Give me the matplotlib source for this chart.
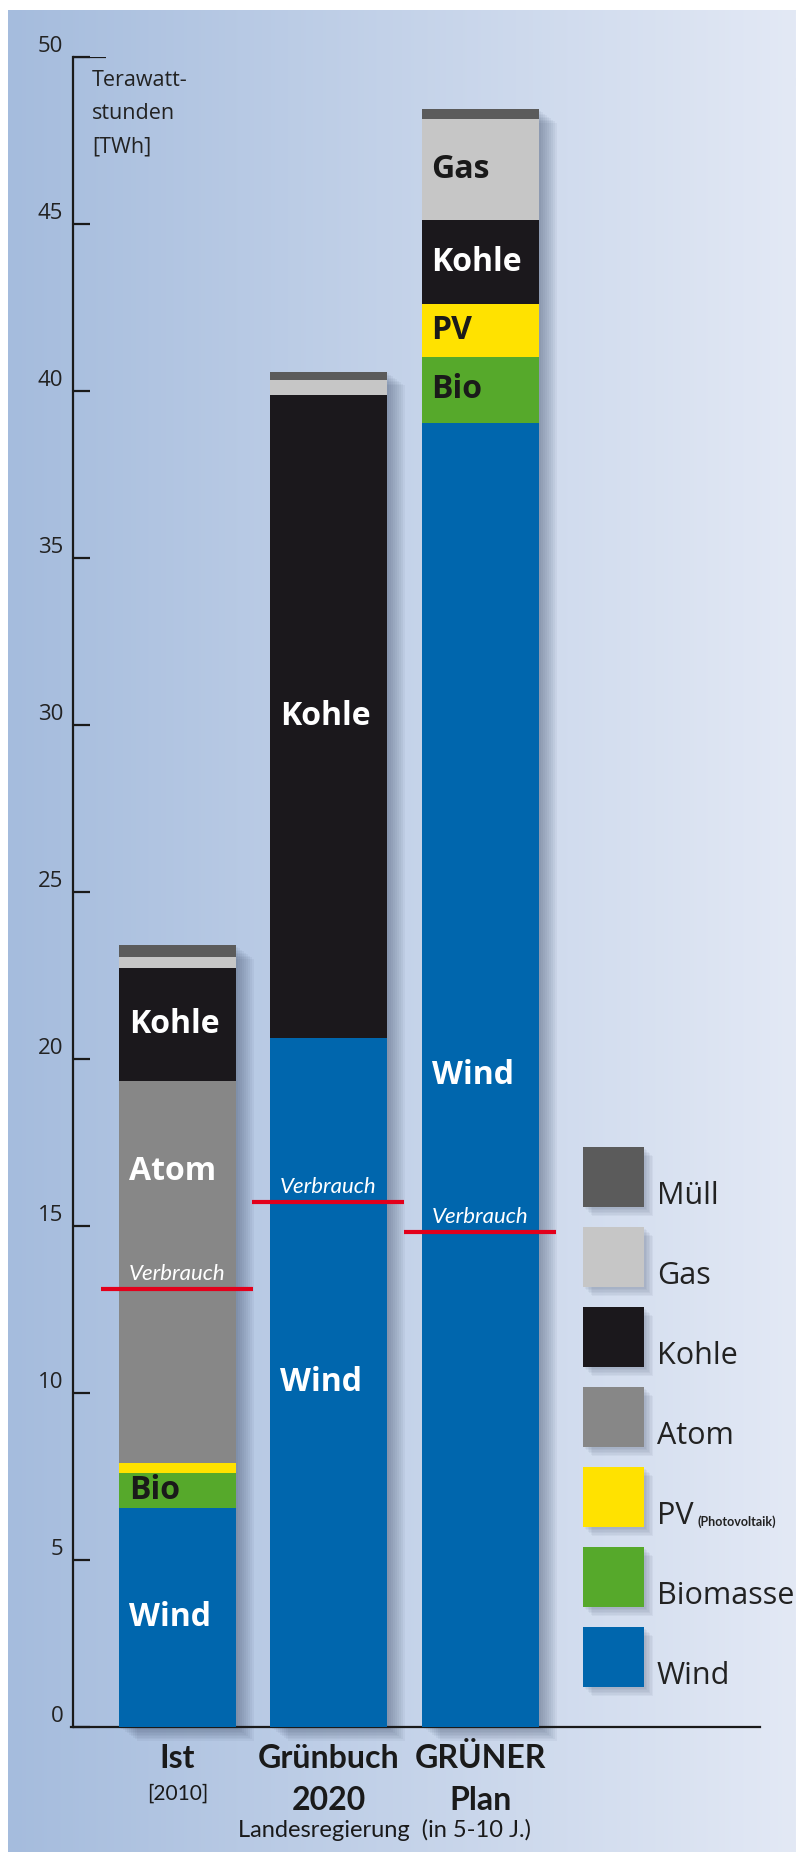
import numpy as np
import matplotlib.pyplot as plt
from matplotlib.patches import Rectangle

# scenarios (x axis)
scen_top = ['Ist', 'Grünbuch', 'GRÜNER']
scen_bot = ['[2010]', '2020', 'Plan']
scen_note = 'Landesregierung  (in 5-10 J.)'

# stacked segments, bottom to top, in TWh
sources = ['Wind', 'Biomasse', 'PV', 'Atom', 'Kohle', 'Gas', 'Müll']
short = ['Wind', 'Bio', 'PV', 'Atom', 'Kohle', 'Gas', 'Müll']
wind = [6.55, 20.63, 39.04]
bio = [1.05, 0.0, 1.98]
pv = [0.30, 0.0, 1.58]
atom = [11.45, 0.0, 0.0]
kohle = [3.37, 19.25, 2.52]
gas = [0.33, 0.45, 3.02]
muell = [0.36, 0.24, 0.30]
verbrauch = [13.1, 15.72, 14.82]
yticks = [0, 5, 10, 15, 20, 25, 30, 35, 40, 45, 50]

colors = ['#0066ad', '#56a92b', '#ffe200', '#878787', '#1b181c', '#c6c6c6', '#5b5b5b']
txtcol = ['white', '#1a1a1a', '#1a1a1a', 'white', 'white', '#1a1a1a', 'white']
series = [wind, bio, pv, atom, kohle, gas, muell]

W, H = 796, 1852
fig = plt.figure(figsize=(W / 100, H / 100), dpi=100)
fig.patch.set_facecolor('white')

# background gradient inside the white margins
bg = fig.add_axes([8 / W, 0, (W - 8) / W, (H - 10) / H])
c0 = np.array([165, 188, 221]) / 255
c1 = np.array([227, 233, 245]) / 255
t = np.linspace(0, 1, 400)[None, :, None]
bg.imshow(c0 + (c1 - c0) * t, aspect='auto', extent=[0, 1, 0, 1])
bg.axis('off')

# main axes: 0 TWh at y=1727 px, 50 TWh at y=57 px, bar spacing 151.25 px
pxx = 1 / 151.25
pxy = 1 / 33.4
x0_px, cen_px = 73, 177.5
ax = fig.add_axes([x0_px / W, (H - 1727) / H, (W - x0_px) / W, 1670 / H])
ax.set_zorder(1)
ax.patch.set_alpha(0)
ax.set_xlim((x0_px - cen_px) * pxx, (W - cen_px) * pxx)
ax.set_ylim(0, 50)

x = np.arange(len(scen_top))
bw = 117 * pxx
totals = np.sum(series, axis=0)

# soft drop shadows
for xi, tot in zip(x, totals):
    for k in range(1, 10):
        ax.add_patch(Rectangle((xi - bw / 2 + 2 * k * pxx, -1.5 * k * pxy), bw, tot,
                               color='#34435e', alpha=0.055, lw=0, zorder=1, clip_on=False))

bottom = np.zeros(len(x))
for j, (vals, c) in enumerate(zip(series, colors)):
    vals = np.array(vals)
    ax.bar(x, vals, bottom=bottom, width=bw, color=c, lw=0, zorder=3)
    for i in range(len(x)):
        if vals[i] > 0.9:
            yl = bottom[i] + vals[i] / 2
            if short[j] == 'Atom':
                yl += 3.0
            ax.text(x[i] - bw / 2 + 10 * pxx, yl, short[j], color=txtcol[j],
                    fontsize=23, fontweight='bold', family='Open Sans',
                    ha='left', va='center', zorder=6)
    bottom += vals

# consumption lines
for xi, v in zip(x, verbrauch):
    ax.hlines(v, xi - bw / 2 - 18 * pxx, xi + bw / 2 + 17 * pxx, color='#e3001b',
              lw=3, zorder=5)
    ax.text(xi - bw / 2 + 10 * pxx, v + 5 * pxy, 'Verbrauch', color='white',
            fontsize=16, style='italic', family='Lato',
            ha='left', va='bottom', zorder=6)

# axes lines and ticks
for s in ['top', 'right']:
    ax.spines[s].set_visible(False)
ax.spines['left'].set_bounds(0, 50)
ax.spines['bottom'].set_bounds(ax.get_xlim()[0] - 2 * pxx, (760 - cen_px) * pxx)
for s in ['left', 'bottom']:
    ax.spines[s].set_linewidth(1.6)
    ax.spines[s].set_color('#1a1a1a')
ax.set_xticks([])
ax.set_yticks(yticks)
ax.set_yticklabels([str(v) for v in yticks], fontsize=16, family='Open Sans', color='#222222')
ax.tick_params(axis='y', direction='in', length=12, width=1.6, color='#1a1a1a', pad=7)
for lab in ax.get_yticklabels():
    lab.set_va('bottom')
ax.hlines(50, ax.get_xlim()[0], ax.get_xlim()[0] + 33 * pxx, color='#1a1a1a', lw=1.6)

ax.text((92 - cen_px) * pxx, 49.6, 'Terawatt-\nstunden\n[TWh]', fontsize=15.5,
        family='Open Sans', color='#222222', ha='left', va='top', linespacing=1.75)

# category labels
narrow = 'Lato'
for xi, a, b in zip(x, scen_top, scen_bot):
    ax.text(xi, -1.23, a, fontsize=23, fontweight='bold', family=narrow, color='#1a1a1a',
            ha='center', va='baseline', clip_on=False)
    if b.startswith('['):
        ax.text(xi, -2.19, b, fontsize=15, family=narrow, color='#1a1a1a',
                ha='center', va='baseline', clip_on=False)
    else:
        ax.text(xi, -2.48, b, fontsize=23, fontweight='bold', family=narrow, color='#1a1a1a',
                ha='center', va='baseline', clip_on=False)
ax.text((384 - cen_px) * pxx, -3.3, scen_note, fontsize=17, family=narrow, color='#1a1a1a',
        ha='center', va='baseline', clip_on=False)

# legend (top: Müll ... bottom: Wind)
lx = (583 - cen_px) * pxx
top0 = (1727 - 1147) * pxy
for k, j in enumerate(range(len(sources) - 1, -1, -1)):
    top = top0 - k * 80 * pxy
    for s in range(1, 7):
        ax.add_patch(Rectangle((lx + 1.5 * s * pxx, top - 60 * pxy - 1.5 * s * pxy), 61 * pxx,
                               60 * pxy, color='#34435e', alpha=0.05, lw=0, zorder=2))
    ax.add_patch(Rectangle((lx, top - 60 * pxy), 61 * pxx, 60 * pxy, color=colors[j],
                           lw=0, zorder=3))
    tx = ax.text(lx + 74 * pxx, top - 57 * pxy, sources[j], fontsize=22, family='Open Sans',
                 color='#222222', ha='left', va='baseline', zorder=6)
    if sources[j] == 'PV':
        ax.annotate('(Photovoltaik)', xy=(1, 0), xycoords=tx, xytext=(3, 2),
                    textcoords='offset points', fontsize=9, fontweight='bold',
                    family=narrow, color='#222222', ha='left', va='bottom',
                    annotation_clip=False)

fig.savefig('out.png', dpi=100)
